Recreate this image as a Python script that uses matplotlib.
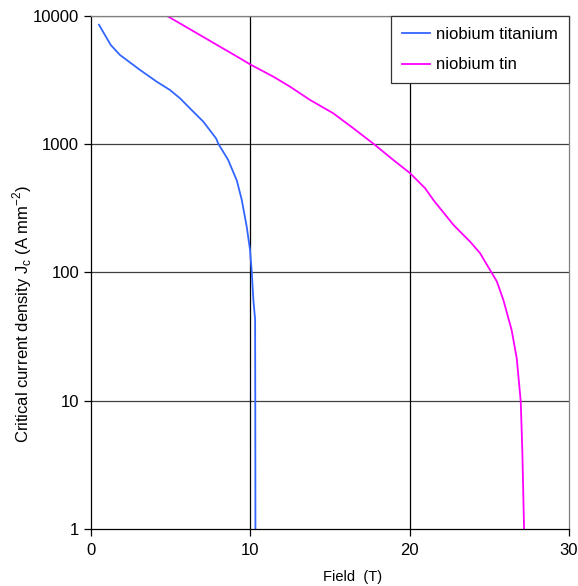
import matplotlib
matplotlib.use("Agg")
import matplotlib.pyplot as plt
from matplotlib.ticker import FixedLocator, FixedFormatter

plt.rcParams['font.family'] = ['Liberation Sans', 'DejaVu Sans']

# niobium titanium
nbti_field = [0.5, 1.24, 1.82, 3.08, 4.12, 4.96, 5.59, 6.21, 7.05, 7.85, 8.0, 8.6,
              9.15, 9.46, 9.77, 9.98, 10.09, 10.19, 10.3, 10.31, 10.32]
nbti_jc = [8500, 5910, 4940, 3776, 3063, 2635, 2270, 1897, 1493, 1106, 1000, 755,
           520, 368, 228, 150, 100, 61, 43, 10, 1]

# niobium tin
nb3sn_field = [4.75, 9.35, 9.98, 11.44, 12.49, 13.75, 15.21, 16.47, 17.83, 18.98,
               20.03, 20.97, 21.49, 22.75, 23.8, 24.42, 25.05, 25.47, 25.88, 26.4,
               26.72, 26.97, 27.07, 27.18]
nb3sn_jc = [10000, 4656, 4180, 3350, 2800, 2204, 1734, 1325, 982, 750,
            592, 452, 366, 234, 173, 141, 104, 85, 61, 35.5,
            21.4, 9.9, 4.1, 1]

x_ticks = [0, 10, 20, 30]
y_ticks = [1, 10, 100, 1000, 10000]
y_labels = ['1', '10', '100', '1000', '10000']

fig = plt.figure(figsize=(5.78, 5.86), dpi=100)
ax = fig.add_axes([91 / 578, 1 - 529 / 586, 478 / 578, (529 - 15.7) / 586])

ax.plot(nbti_field, nbti_jc, color='#3366ff', lw=1.3, label='niobium titanium')
ax.plot(nb3sn_field, nb3sn_jc, color='#ff00ff', lw=1.3, label='niobium tin')

ax.set_yscale('log')
ax.set_xlim(0, 30)
ax.set_ylim(1, 10000)
ax.yaxis.set_major_locator(FixedLocator(y_ticks))
ax.yaxis.set_major_formatter(FixedFormatter(y_labels))
ax.yaxis.set_minor_locator(FixedLocator([]))
ax.set_xticks(x_ticks)

for y in y_ticks[1:]:
    ax.axhline(y, color='#404040', lw=0.9, zorder=0)
for x in [10, 20]:
    ax.axvline(x, color='black', lw=0.9, zorder=0)

ax.tick_params(direction='out', length=5, width=0.9, labelsize=12, color='black')
ax.tick_params(axis='x', pad=5)
for s in ['left', 'bottom']:
    ax.spines[s].set_color('black')
    ax.spines[s].set_linewidth(0.9)
for s in ['top', 'right']:
    ax.spines[s].set_color('#808080')
    ax.spines[s].set_linewidth(0.9)

# axis titles placed like the original (offset from axis centres)
fig.text(353 / 578, 1 - 577 / 586, 'Field  (T)', fontsize=10.5,
         ha='center', va='center')
fig.text(22 / 578, 1 - 314 / 586,
         'Critical current density J$_\\mathregular{c}$ (A mm$^\\mathregular{-2}$)',
         fontsize=12, rotation=90, ha='center', va='center')

leg = ax.legend(loc='upper right', borderaxespad=0, fancybox=False, fontsize=12,
                handlelength=1.65, handletextpad=0.4, edgecolor='#333333',
                framealpha=1, borderpad=0.65, labelspacing=0.95)
leg.get_frame().set_linewidth(0.9)

fig.savefig('out.png', dpi=100)
